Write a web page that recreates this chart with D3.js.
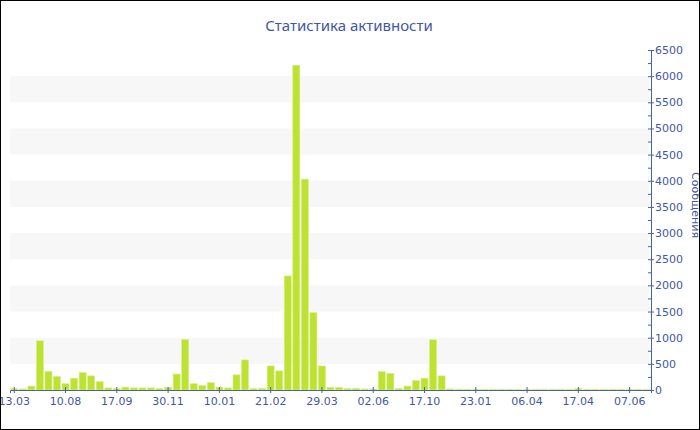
<!DOCTYPE html>
<html>
<head>
<meta charset="utf-8">
<script src="https://cdn.jsdelivr.net/npm/d3@7"></script>
<style>
  html, body { margin: 0; padding: 0; background: #fff; }
  svg { display: block; }
</style>
</head>
<body>
<svg id="chart" width="700" height="430"></svg>
<script>
const titleText = "Статистика активности";
const yTitle = "Сообщения";
// one value per bar (75 periods)
const values = [30,20,75,940,355,260,120,225,335,270,160,40,25,55,40,40,40,25,50,305,
                965,120,85,140,55,40,290,575,25,30,460,365,2180,6210,4030,1480,460,50,50,25,
                30,20,20,350,320,30,75,180,225,960,270,20,15,15,15,12,12,12,12,12,
                12,12,12,12,12,12,28,12,12,12,12,12,12,12,12];
// tick labels shown every 6th bar
const tickLabels = ["13.03","10.08","17.09","30.11","10.01","21.02","29.03","02.06","17.10","23.01","06.04","17.04","07.06"];
const tickEvery = 6;
const yMax = 6500, yStep = 500;

const svg = d3.select("#chart");
const blue = "#3f58a3";
const axisCol = "#4a61a8";
const x = d3.scaleBand().domain(d3.range(values.length)).range([10, 651]).paddingInner(0.18).paddingOuter(0.09);
const y = d3.scaleLinear().domain([0, yMax]).range([390, 50]);

// alternating bands
const bandStarts = d3.range(yStep, yMax, yStep * 2);
svg.append("g").selectAll("rect").data(bandStarts).join("rect")
  .attr("x", 10).attr("width", 639)
  .attr("y", d => y(d + yStep)).attr("height", d => y(d) - y(d + yStep))
  .attr("fill", "#f7f7f7");

// bars
svg.append("g").selectAll("rect").data(values).join("rect")
  .attr("x", (d, i) => x(i)).attr("width", x.bandwidth())
  .attr("y", d => y(d)).attr("height", d => y(0) - y(d))
  .attr("fill", "#bde232").attr("stroke", "#d5ef86").attr("stroke-width", 0.6);

// bottom axis
const xTickIdx = tickLabels.map((t, i) => i * tickEvery);
const gx = svg.append("g").attr("transform", "translate(0,390)")
  .call(d3.axisBottom(x).tickValues(xTickIdx).tickFormat((d, i) => tickLabels[i]).tickSizeOuter(0).tickSize(3));
gx.select(".domain").attr("stroke", axisCol);
gx.selectAll(".tick line").attr("stroke", axisCol).attr("y1", -3).attr("y2", 3);
gx.selectAll(".tick text").attr("fill", blue).attr("y", 7)
  .style("font-family", "DejaVu Sans").style("font-size", "11px");

// right axis (major)
const gy = svg.append("g").attr("transform", "translate(651,0)")
  .call(d3.axisRight(y).tickValues(d3.range(0, yMax + 1, yStep)).tickFormat(d3.format("d")).tickSize(3).tickPadding(1).tickSizeOuter(0));
gy.select(".domain").attr("stroke", axisCol);
gy.selectAll(".tick line").attr("stroke", axisCol).attr("x1", -3);
gy.selectAll(".tick text").attr("fill", blue)
  .style("font-family", "DejaVu Sans").style("font-size", "11px");
// minor ticks
const gm = svg.append("g").attr("transform", "translate(651,0)")
  .call(d3.axisLeft(y).tickValues(d3.range(yStep / 2, yMax, yStep)).tickFormat("").tickSize(3).tickSizeOuter(0));
gm.select(".domain").remove();
gm.selectAll(".tick line").attr("stroke", axisCol);

// titles
svg.append("text").attr("x", 349).attr("y", 31).attr("text-anchor", "middle")
  .attr("fill", blue).style("font-family", "Noto Sans").style("font-size", "15px").text(titleText);
svg.append("text").attr("transform", "translate(692,205) rotate(90)").attr("text-anchor", "middle")
  .attr("fill", blue).style("font-family", "DejaVu Sans").style("font-size", "11px").text(yTitle);

// border
svg.append("rect").attr("x", 0.5).attr("y", 0.5).attr("width", 699).attr("height", 429)
  .attr("fill", "none").attr("stroke", "#000");
</script>
</body>
</html>
